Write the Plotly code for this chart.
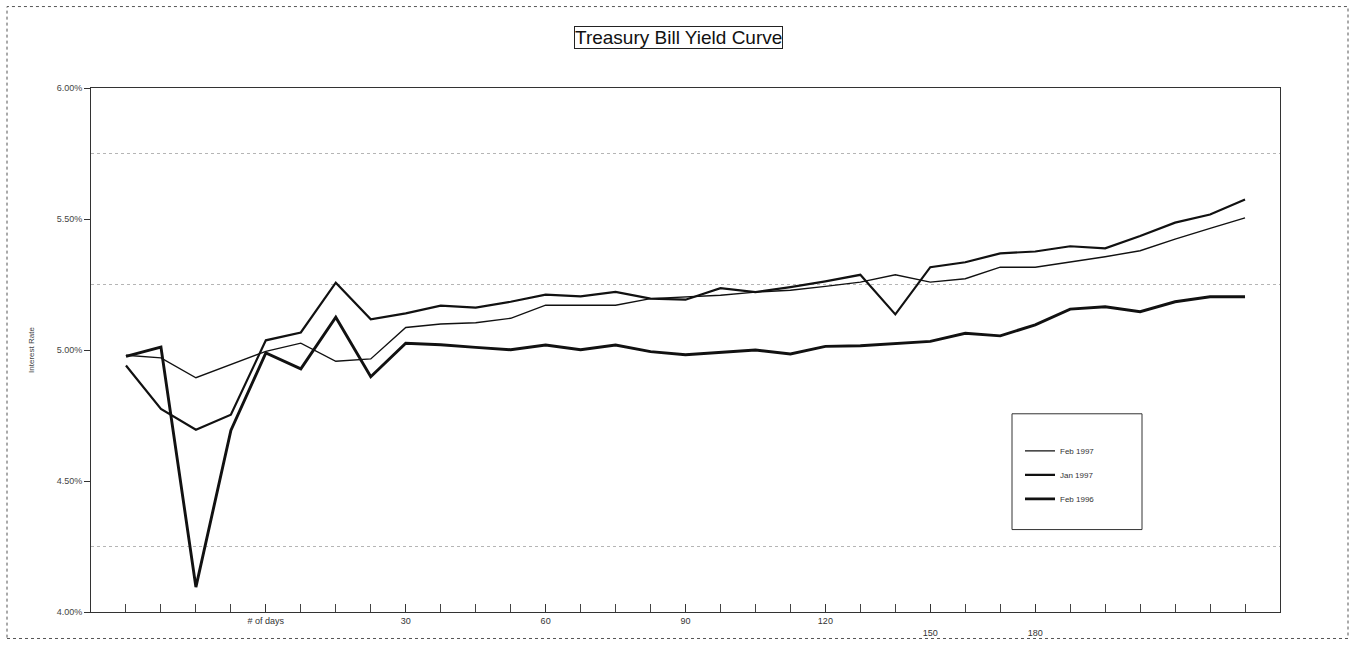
import plotly.graph_objects as go

# term index (one point per bill maturity)
term = list(range(1, 34))

feb_1996 = [4.976, 5.011, 4.095, 4.693, 4.989, 4.928, 5.125, 4.898, 5.026, 5.020,
            5.010, 5.001, 5.019, 5.001, 5.019, 4.994, 4.982, 4.992, 5.000, 4.985,
            5.014, 5.016, 5.024, 5.033, 5.064, 5.054, 5.096, 5.156, 5.165, 5.146,
            5.184, 5.203, 5.203]

jan_1997 = [4.941, 4.775, 4.696, 4.753, 5.037, 5.067, 5.257, 5.117, 5.140, 5.169,
            5.162, 5.184, 5.211, 5.205, 5.222, 5.196, 5.192, 5.236, 5.221, 5.240,
            5.262, 5.287, 5.136, 5.316, 5.335, 5.369, 5.376, 5.396, 5.388, 5.435,
            5.486, 5.517, 5.574]

feb_1997 = [4.980, 4.970, 4.894, 4.945, 4.995, 5.026, 4.957, 4.966, 5.086, 5.099,
            5.104, 5.121, 5.171, 5.171, 5.171, 5.196, 5.202, 5.209, 5.221, 5.228,
            5.243, 5.259, 5.287, 5.259, 5.272, 5.316, 5.316, 5.335, 5.356, 5.379,
            5.423, 5.464, 5.504]

x_tick_vals = [5, 9, 13, 17, 21, 24, 27]
x_tick_text = ["# of days", "30", "60", "90", "120", "<br>150", "<br>180"]
y_tick_vals = [4.0, 4.5, 5.0, 5.5, 6.0]
y_tick_text = ["4.00%", "4.50%", "5.00%", "5.50%", "6.00%"]
y_grid_vals = [4.25, 5.25, 5.75]

W, H = 1351, 650
L, R, T, B = 91, 71, 88, 28
pw, ph = W - L - R, H - T - B

def px(xp):
    return (xp - L) / pw

def py(yp):
    return (H - B - yp) / ph

fig = go.Figure()
series = [("Feb 1997", feb_1997, 1.4), ("Jan 1997", jan_1997, 2.2), ("Feb 1996", feb_1996, 2.9)]
for name, vals, w in series:
    fig.add_trace(go.Scatter(x=term, y=vals, mode="lines", name=name, legendgroup=name,
                             line=dict(color="#111111", width=w)))

fig.update_layout(
    width=W, height=H,
    margin=dict(l=L, r=R, t=T, b=B),
    paper_bgcolor="white", plot_bgcolor="white",
    font=dict(family="Arial, Liberation Sans, sans-serif", color="#222"),
    showlegend=True,
    legend=dict(x=px(1020), y=py(443), xanchor="left", yanchor="top",
                bgcolor="rgba(0,0,0,0)", borderwidth=0,
                font=dict(size=8, color="#333"), itemwidth=30,
                tracegroupgap=5),
    annotations=[dict(text="Treasury Bill Yield Curve", xref="paper", yref="paper",
                      x=px(678), y=py(37), xanchor="center", yanchor="middle",
                      showarrow=False, font=dict(size=19, color="#111"),
                      bordercolor="#222", borderwidth=1, borderpad=0)],
    shapes=[
        dict(type="rect", xref="paper", yref="paper",
             x0=px(1012), x1=px(1142), y0=py(538), y1=py(420),
             line=dict(color="#333", width=1)),
        dict(type="rect", xref="paper", yref="paper",
             x0=px(7), x1=px(1348), y0=py(649), y1=py(5),
             line=dict(color="#555", width=1, dash="dot")),
    ],
)

fig.update_xaxes(range=[0, 34], tickmode="array", tickvals=x_tick_vals, ticktext=x_tick_text,
                 ticks="inside", ticklen=8, tickcolor="#333",
                 minor=dict(tick0=0, dtick=1, ticks="inside", ticklen=8, tickcolor="#444"),
                 showgrid=False, zeroline=False,
                 showline=True, linecolor="#333", linewidth=1, mirror=True,
                 tickfont=dict(size=9, color="#333"))

fig.update_yaxes(range=[4.0, 6.0], tickmode="array", tickvals=y_tick_vals, ticktext=y_tick_text,
                 ticks="outside", ticklen=6, tickcolor="#333",
                 showgrid=False, zeroline=False,
                 minor=dict(tickmode="array", tickvals=y_grid_vals, showgrid=True,
                            gridcolor="#b5b5b5", griddash="dot", gridwidth=1),
                 showline=True, linecolor="#333", linewidth=1, mirror=True,
                 tickfont=dict(size=9, color="#444"),
                 title=dict(text="Interest Rate", font=dict(size=8, color="#444"), standoff=20))

fig.write_html("out.html")
